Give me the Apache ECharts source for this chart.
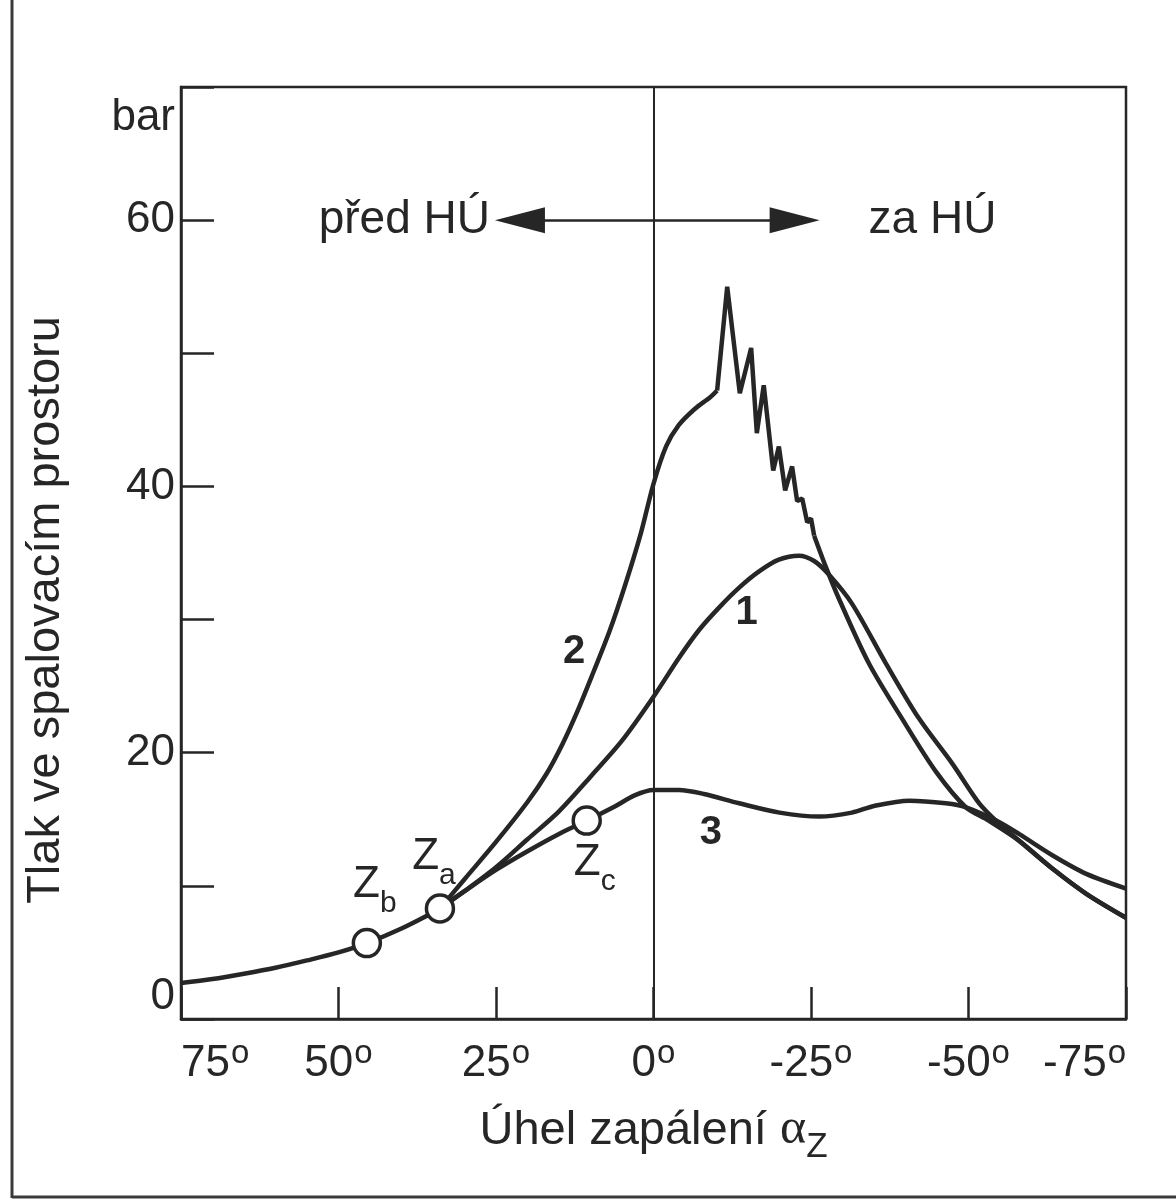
<!DOCTYPE html>
<html><head><meta charset="utf-8">
<script src="https://cdn.jsdelivr.net/npm/echarts@6/dist/echarts.min.js"></script>
<style>html,body{margin:0;padding:0;background:#fff}#c{width:1176px;height:1202px}</style>
</head><body><div id="c"></div>
<script>
// ---- data (angle in degrees before TDC, pressure in bar) ----
const xTickValues = [75, 50, 25, 0, -25, -50, -75];
const yTickLabels = [0, 20, 40, 60];
const yRange = [0, 70];
const commonPart = [[75,2.7],[70,3.0],[65,3.4],[60,3.85],[55,4.4],[50,5.0],[45.5,5.7],[40,6.8],[35,8.0],[33.9,8.3]];
const curve1 = [[33.9,8.3],[30,9.6],[25,11.4],[20,13.5],[15,15.6],[10,18.2],[5,20.9],[0,24.2],[-4,27.1],[-7.2,29.2],[-10.4,30.9],[-13.6,32.4],[-16.7,33.6],[-19.9,34.5],[-23.1,34.8],[-25.5,34.4],[-27.8,33.4],[-31.5,31.2],[-36.9,26.7],[-42.1,22.6],[-47.4,19.2],[-51.7,16.2],[-54.8,14.7],[-58,13.4],[-63.3,11.3],[-68.7,9.4],[-75,7.6]];
const curve2Rise = [[33.9,8.3],[30,10.5],[25,13.3],[20,16.3],[17,18.4],[14.5,20.6],[12,23.2],[9.5,26.1],[7,29.1],[4.5,32.6],[2,36.5],[0,40.2],[-2,43.0],[-4,44.6],[-6.5,45.8],[-9,46.7],[-10.1,47.2]];
const curve2Knock = [[-10.1,47.2],[-11.7,55.0],[-13.7,47.0],[-15.5,50.4],[-16.4,44.0],[-17.5,47.6],[-19.0,41.2],[-19.9,43.0],[-20.9,39.7],[-22.0,41.5],[-22.8,38.9],[-23.6,39.1],[-24.4,37.3],[-25.0,37.6],[-25.5,36.3]];
const curve2Fall = [[-25.5,36.3],[-27.4,33.9],[-29.4,31.6],[-34.2,26.7],[-39.4,22.6],[-44.8,18.6],[-49.6,15.9],[-53.2,14.9],[-58,13.4],[-63.3,11.3],[-68.7,9.4],[-75,7.6]];
const curve3 = [[33.9,8.3],[30,9.6],[25,11.2],[20,12.6],[15,13.9],[10.6,14.9],[6,16.0],[3,16.8],[0,17.2],[-4,17.2],[-8,16.9],[-13.6,16.2],[-20,15.5],[-26.3,15.2],[-31.5,15.5],[-35,16.0],[-40.6,16.4],[-46.4,16.2],[-49.6,15.9],[-54.4,14.9],[-58,13.9],[-63.3,12.3],[-68.7,10.9],[-75,9.8]];
const ignitionPoints = [[45.5,5.7],[33.9,8.3],[10.6,14.9]];
const ignitionNames = ['b','a','c'];
const curveLabelNames = ['2','1','3'];
const curveLabelPos = [[12.6,27.6],[-14.8,30.5],[-9.1,14.0]];
const tdcAngle = 0;
const arrowLevel = 60;
const arrowEnds = [21.2, -22.4];
const regionLabels = ['před HÚ', 'za HÚ'];

// ---- styles ----
const ink = '#262626';
const FONT = "'Liberation Sans', Arial, Helvetica, sans-serif";
const ignitionLabelOffsets = [[8,-52],[-6,-46],[8,48]];

const chart = echarts.init(document.getElementById('c'), null, {renderer:'canvas'});
const curveStyle = {color: ink, width: 4.5};
function lineSeries(name, data, smooth){
  return {name, type:'line', data, smooth, symbol:'none', lineStyle: curveStyle, z:3, silent:true};
}
const option = {
  animation:false,
  backgroundColor:'#ffffff',
  textStyle:{fontFamily:FONT, color:ink},
  grid:{left:181, right:50, top:87, bottom:183, show:true, borderColor:ink, borderWidth:2.5, backgroundColor:'transparent'},
  xAxis:{
    type:'value', min:-75, max:75, interval:25, inverse:true,
    axisLine:{show:true, onZero:false, lineStyle:{color:ink, width:2.5}},
    axisTick:{show:true, inside:true, length:32, lineStyle:{color:ink, width:2.5}},
    splitLine:{show:false},
    axisLabel:{
      margin:18, showMinLabel:true, showMaxLabel:true,
      alignMinLabel:'right', alignMaxLabel:'left',
      formatter: v => xTickValues.includes(v) ? '{n|' + v + '}{o|o}' : '',
      rich:{
        n:{fontSize:44, fontFamily:FONT, color:ink, verticalAlign:'bottom', padding:[0,1,0,0]},
        o:{fontSize:33, fontFamily:FONT, color:ink, verticalAlign:'bottom', padding:[0,0,16,0]}
      }
    },
    name:'{t|Úhel zapálení }{a|α}{s|Z}',
    nameLocation:'middle', nameGap:86,
    nameTextStyle:{
      rich:{
        t:{fontSize:47, fontFamily:FONT, color:ink, verticalAlign:'bottom', padding:[0,0,10,0]},
        a:{fontSize:50, fontFamily:"'Liberation Serif', 'DejaVu Serif', serif", color:ink, verticalAlign:'bottom', padding:[0,0,10,0]},
        s:{fontSize:35, fontFamily:FONT, color:ink, verticalAlign:'bottom'}
      }
    }
  },
  yAxis:{
    type:'value', min:yRange[0], max:yRange[1], interval:10,
    axisLine:{show:true, onZero:false, lineStyle:{color:ink, width:2.5}},
    axisTick:{show:true, inside:true, length:33, lineStyle:{color:ink, width:2.5}},
    splitLine:{show:false},
    axisLabel:{
      margin:6, fontSize:44, color:ink, fontFamily:FONT,
      verticalAlignMinLabel:'bottom',
      formatter: v => yTickLabels.includes(v) ? String(v) : ''
    },
    name:'bar', nameLocation:'end', nameGap:-31,
    nameTextStyle:{fontSize:44, color:ink, fontFamily:FONT, align:'right', verticalAlign:'middle', padding:[0,6,0,0]}
  },
  graphic:[
    {type:'text', x:46, y:610, rotation:Math.PI/2, z:10,
     style:{text:'Tlak ve spalovacím prostoru', fontSize:47, fontFamily:FONT, fill:ink, align:'center', verticalAlign:'middle'}},
    {type:'line', shape:{x1:12, y1:0, x2:12, y2:1198}, style:{stroke:'#3a3a3a', lineWidth:3}},
    {type:'line', shape:{x1:12, y1:1197, x2:1176, y2:1197}, style:{stroke:'#3a3a3a', lineWidth:3}}
  ],
  series:[
    Object.assign(lineSeries('common', commonPart, 0.3), {
      markLine:{
        silent:true, symbol:['none','triangle'], symbolSize:[26,50],
        lineStyle:{color:ink, width:2.5, type:'solid', opacity:1},
        label:{show:true, position:'end', formatter:'{b}', fontSize:46, color:ink, fontFamily:FONT, distance:30},
        data:[
          [{coord:[tdcAngle,arrowLevel], name:regionLabels[0]},{coord:[arrowEnds[0],arrowLevel]}],
          [{coord:[tdcAngle,arrowLevel], name:regionLabels[1], label:{distance:74}},{coord:[arrowEnds[1],arrowLevel]}],
          [{coord:[tdcAngle,yRange[0]], symbol:'none', label:{show:false}, lineStyle:{width:2}}, {coord:[tdcAngle,yRange[1]], symbol:'none'}]
        ]
      }
    }),
    lineSeries('1', curve1, 0.3),
    lineSeries('2', curve2Rise, 0.3),
    lineSeries('2k', curve2Knock, false),
    lineSeries('2f', curve2Fall, 0.3),
    lineSeries('3', curve3, 0.3),
    {
      name:'curveLabels', type:'scatter', data:curveLabelPos, symbolSize:1, silent:true,
      itemStyle:{color:'rgba(0,0,0,0)', opacity:1}, z:5,
      label:{show:true, position:'inside', opacity:1, formatter:p => curveLabelNames[p.dataIndex], fontSize:40, fontWeight:'bold', color:ink, fontFamily:FONT}
    },
    {
      name:'ignition', type:'scatter', symbol:'circle', symbolSize:27, silent:true, z:6,
      itemStyle:{color:'#ffffff', borderColor:ink, borderWidth:3.5, opacity:1},
      data: ignitionPoints.map((p,i) => ({value:p, label:{offset:ignitionLabelOffsets[i]}})),
      label:{
        show:true, position:'inside', opacity:1,
        formatter:p => '{z|Z}{s|' + ignitionNames[p.dataIndex] + '}',
        rich:{
          z:{fontSize:44, fontFamily:FONT, color:ink, verticalAlign:'bottom', padding:[0,0,12,0]},
          s:{fontSize:30, fontFamily:FONT, color:ink, verticalAlign:'bottom'}
        }
      }
    }
  ]
};
chart.setOption(option);
</script></body></html>
